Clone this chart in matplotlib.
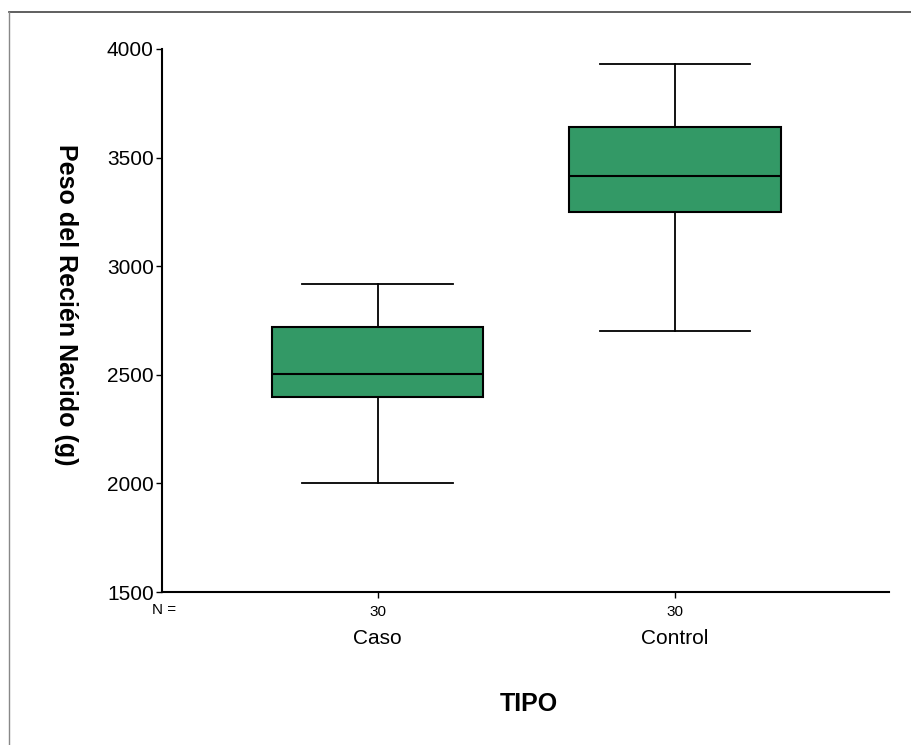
import matplotlib
matplotlib.use("Agg")
import matplotlib.pyplot as plt
from matplotlib.lines import Line2D
from matplotlib.transforms import blended_transform_factory

plt.rcParams['font.family'] = ['Liberation Sans', 'DejaVu Sans']

categories = ["Caso", "Control"]
counts = [30, 30]
whisker_low = [2000, 2700]
q1 = [2400, 3250]
median = [2505, 3415]
q3 = [2720, 3640]
whisker_high = [2920, 3930]
yticks = [1500, 2000, 2500, 3000, 3500, 4000]

W, H = 912, 745
fig = plt.figure(figsize=(W / 100, H / 100), dpi=100)
ax = fig.add_axes([162 / W, (H - 592) / H, (889 - 162) / W, (592 - 49) / H])

stats = []
for i, c in enumerate(categories):
    stats.append(dict(label=c, whislo=whisker_low[i], q1=q1[i], med=median[i],
                      q3=q3[i], whishi=whisker_high[i], fliers=[]))

positions = list(range(1, len(categories) + 1))
ax.bxp(stats, positions=positions, widths=0.71, capwidths=0.507, patch_artist=True,
       showfliers=False,
       boxprops=dict(facecolor='#339966', edgecolor='black', linewidth=1.5),
       medianprops=dict(color='black', linewidth=1.5),
       whiskerprops=dict(color='black', linewidth=1.3),
       capprops=dict(color='black', linewidth=1.3))

ax.set_xlim(0.274, 2.72)
ax.set_ylim(1500, 4000)
ax.set_yticks(yticks)
ax.set_yticklabels([str(v) for v in yticks], fontsize=15)
ax.set_xticks(positions)
ax.set_xticklabels([str(n) for n in counts], fontsize=11)
ax.tick_params(axis='y', length=4, width=1, pad=2)
ax.tick_params(axis='x', length=4, width=1, pad=5)
for s in ['top', 'right']:
    ax.spines[s].set_visible(False)
ax.spines['left'].set_linewidth(1.5)
ax.spines['bottom'].set_linewidth(1.5)

trans = blended_transform_factory(ax.transData, ax.transAxes)
for p, c in zip(positions, categories):
    ax.text(p, -47 / 543, c, transform=trans, ha='center', va='center', fontsize=15)
ax.text(0.28, -18 / 543, "N =", transform=trans, ha='center', va='center', fontsize=11)

ax.set_ylabel("Peso del Recién Nacido (g)", fontsize=18, fontweight='bold',
              rotation=270, labelpad=0)
ax.yaxis.set_label_coords(-(162 - 54) / 727, (592 - 305) / 543)
fig.text(529 / W, 1 - 704 / H, "TIPO", fontsize=18, fontweight='bold', ha='center', va='center')

fig.add_artist(Line2D([9 / W, 1], [1 - 12 / H, 1 - 12 / H], transform=fig.transFigure,
                      color='#444444', linewidth=1.2))
fig.add_artist(Line2D([9 / W, 9 / W], [0, 1 - 12 / H], transform=fig.transFigure,
                      color='#888888', linewidth=1.0))

fig.savefig("out.png", dpi=100)
